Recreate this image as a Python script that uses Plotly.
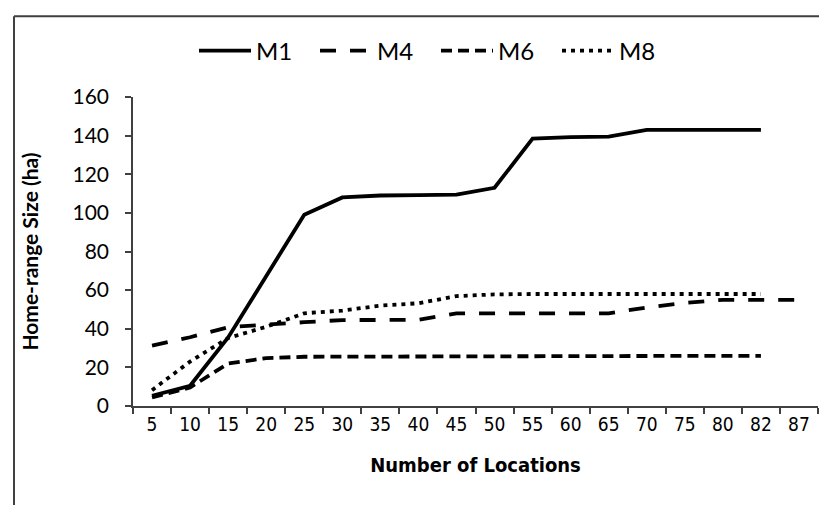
import plotly.graph_objects as go

categories = ["5", "10", "15", "20", "25", "30", "35", "40", "45", "50",
              "55", "60", "65", "70", "75", "80", "82", "87"]

m1 = [5.3, 10.5, 35.5, 67, 99, 108, 109, 109.2, 109.5, 113,
      138.5, 139.2, 139.5, 143, 143, 143, 143, None]
m4 = [31.3, 35.6, 40.8, 42.2, 43.4, 44.5, 44.6, 44.6, 48, 48,
      48, 48, 48, 51, 53.4, 55, 55, 55]
m6 = [4.4, 9.6, 22, 24.8, 25.5, 25.5, 25.5, 25.6, 25.7, 25.8,
      25.8, 25.8, 25.9, 25.9, 26, 26, 26, None]
m8 = [8.2, 23, 35.2, 41, 48, 49.4, 52, 53.2, 56.9, 57.8,
      58, 58, 58, 58, 58, 58, 58, None]

y_ticks = [0, 20, 40, 60, 80, 100, 120, 140, 160]

W, H = 827, 505
L, R, T, B = 125, 17, 89, 106.5
pw, ph = W - L - R, H - T - B

def px(x):
    return (x - L) / pw

def py(y):
    return (H - B - y) / ph

NARROW = "Liberation Sans Narrow, DejaVu Sans Condensed, Liberation Sans"

fig = go.Figure()
fig.add_trace(go.Scatter(x=categories, y=m1, name="M1", mode="lines",
                         line=dict(color="black", width=3.8)))
fig.add_trace(go.Scatter(x=categories, y=m4, name="M4", mode="lines",
                         line=dict(color="black", width=3.8, dash="16px,14px")))
fig.add_trace(go.Scatter(x=categories, y=m6, name="M6", mode="lines",
                         line=dict(color="black", width=3.8, dash="11px,6px")))
fig.add_trace(go.Scatter(x=categories, y=m8, name="M8", mode="lines",
                         line=dict(color="black", width=3.8, dash="4px,5px")))

frame = "#404040"
shapes = [
    dict(type="line", xref="paper", yref="paper", x0=px(6), x1=px(827),
         y0=py(8), y1=py(8), line=dict(color=frame, width=2)),
    dict(type="line", xref="paper", yref="paper", x0=px(6), x1=px(6),
         y0=py(8), y1=py(503), line=dict(color=frame, width=2)),
    dict(type="line", xref="paper", yref="paper", x0=px(6), x1=px(827),
         y0=py(503), y1=py(503), line=dict(color="#d9d9d9", width=1)),
]

fig.update_layout(
    width=W, height=H,
    margin=dict(l=L, r=R, t=T, b=B),
    paper_bgcolor="white", plot_bgcolor="white",
    showlegend=True,
    legend=dict(orientation="h", x=px(186), xanchor="left", y=py(43), yanchor="middle",
                font=dict(family="Lato", size=24, color="black"),
                itemwidth=52, entrywidth=54, tracegroupgap=0),
    shapes=shapes,
    xaxis=dict(type="category", range=[-0.5, 17.5], showgrid=False,
               showline=True, linecolor="#404040", linewidth=1.5,
               ticks="outside", ticklen=6, tickcolor="#404040", tickwidth=1.5,
               tickson="boundaries",
               tickfont=dict(family=NARROW, size=19, color="black"),
               title=dict(text="<b>Number of Locations</b>", standoff=24,
                          font=dict(family=NARROW, size=20, color="black"))),
    yaxis=dict(range=[0, 160], tickvals=y_ticks, showgrid=False, zeroline=False,
               showline=True, linecolor="#404040", linewidth=1.5,
               ticks="outside", ticklen=6, tickcolor="#404040", tickwidth=1.5,
               ticklabelstandoff=12,
               tickfont=dict(family="Lato", size=21, color="black"),
               title=dict(text="<b>Home-range Size (ha)</b>", standoff=28,
                          font=dict(family="Lato", size=21, color="black"))),
)

fig.write_html("out.html")
